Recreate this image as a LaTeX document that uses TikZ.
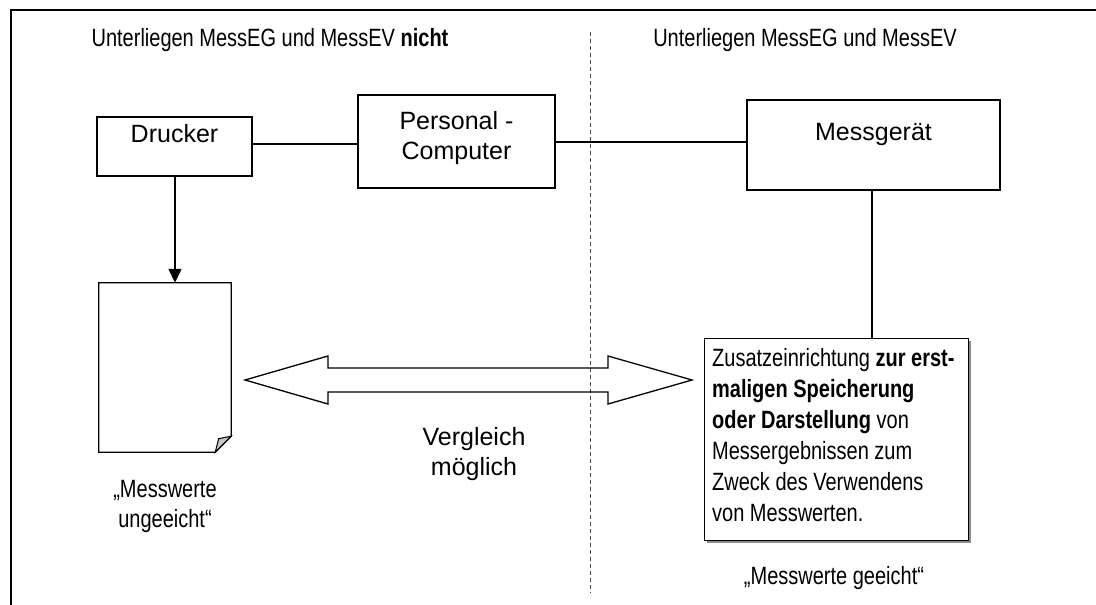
\documentclass[tikz,border=0pt]{standalone}
\usepackage{fontspec}
\setmainfont{Liberation Sans}[FakeStretch=0.8]
\newfontfamily\widefont{Liberation Sans}
\usetikzlibrary{arrows.meta}
\tikzset{
  boxs/.style={draw, line width=1.4pt, fill=white, inner sep=0pt},
  txt/.style={font=\fontsize{25}{30}\selectfont, inner sep=0pt},
  wtxt/.style={font=\widefont\fontsize{25}{30}\selectfont, inner sep=0pt},
  conn/.style={line width=1.3pt},
}
\begin{document}
\begin{tikzpicture}[x=1pt,y=-1pt]
\useasboundingbox (0,0) rectangle (1096,605);
% frame
\draw[line width=2pt] (11,605) -- (11,10) -- (1096,10);
% dashed divider
\coordinate (dtop) at (590,32);
\coordinate (dbot) at (590,593);
\draw[line width=0.8pt, dash pattern=on 4pt off 3pt, black!70] (dtop) -- (dbot);
% headers
\node[txt, anchor=base] (hl) at (270,46) {Unterliegen MessEG und MessEV \textbf{nicht}};
\node[txt, anchor=base] (hr) at (805,46) {Unterliegen MessEG und MessEV};
% boxes
\node[boxs, minimum width=155pt, minimum height=59pt] (drucker) at (174.5,146.5) {};
\node[wtxt, anchor=base] (druckert) at (174.5,142) {Drucker};
\node[boxs, minimum width=197pt, minimum height=93pt] (pc) at (456.5,141.5) {};
\node[wtxt, anchor=base, align=center] (pct) at (456.5,159) {Personal -\\Computer};
\node[boxs, minimum width=253pt, minimum height=90pt] (mg) at (873.5,145) {};
\node[wtxt, anchor=base] (mgt) at (873.5,140) {Messgerät};
% connectors
\draw[conn] (drucker.east |- 0,144) -- (pc.west |- 0,144);
\draw[conn] (pc.east |- 0,142) -- (mg.west |- 0,142);
% document
\node[minimum width=132pt, minimum height=169pt, inner sep=0pt] (doc) at (165,367.5) {};
\draw[line width=1.3pt, fill=white] (doc.north west) -- (doc.north east) -- ([yshift=16pt]doc.south east) -- ([xshift=-16pt]doc.south east) -- (doc.south west) -- cycle;
\draw[line width=1pt, fill=black!22] ([xshift=-16pt]doc.south east) -- ([yshift=16pt]doc.south east) -- ([xshift=-12.5pt,yshift=13.5pt]doc.south east) -- cycle;
\draw[conn, -{Triangle[length=14pt,width=13pt]}] (drucker.south -| 175,0) -- (doc.north -| 175,0);
\node[txt, anchor=base, align=center] (ungeeicht) at (165,527) {„Messwerte\\ungeeicht“};
% right box
\draw[black!45, line width=2pt] (707,542) -- (970,542) -- (970,341);
\node[boxs, minimum width=264pt, minimum height=202pt, anchor=north west] (zus) at (704,338) {};
\node[anchor=north west, inner sep=0pt, align=left, font=\fontsize{25}{31}\selectfont] (zust) at (712,348)
 {Zusatzeinrichtung \textbf{zur erst-}\\\textbf{maligen Speicherung}\\\textbf{oder Darstellung} von\\Messergebnissen zum\\Zweck des Verwendens\\von Messwerten.};
\draw[conn] (mg.south -| 872,0) -- (zus.north -| 872,0);
\node[txt, anchor=base] (geeicht) at (834,584) {„Messwerte geeicht“};
% double arrow
\coordinate (al) at (245,380);
\coordinate (ar) at (692,380);
\draw[line width=1.3pt, line join=miter] (al) -- (328,356) -- (328,368) -- (608,368) -- (608,356) -- (ar) -- (608,404) -- (608,392) -- (328,392) -- (328,404) -- cycle;
\node[wtxt, anchor=base, align=center] (vgl) at (474,475) {Vergleich\\möglich};
\end{tikzpicture}
\end{document}
